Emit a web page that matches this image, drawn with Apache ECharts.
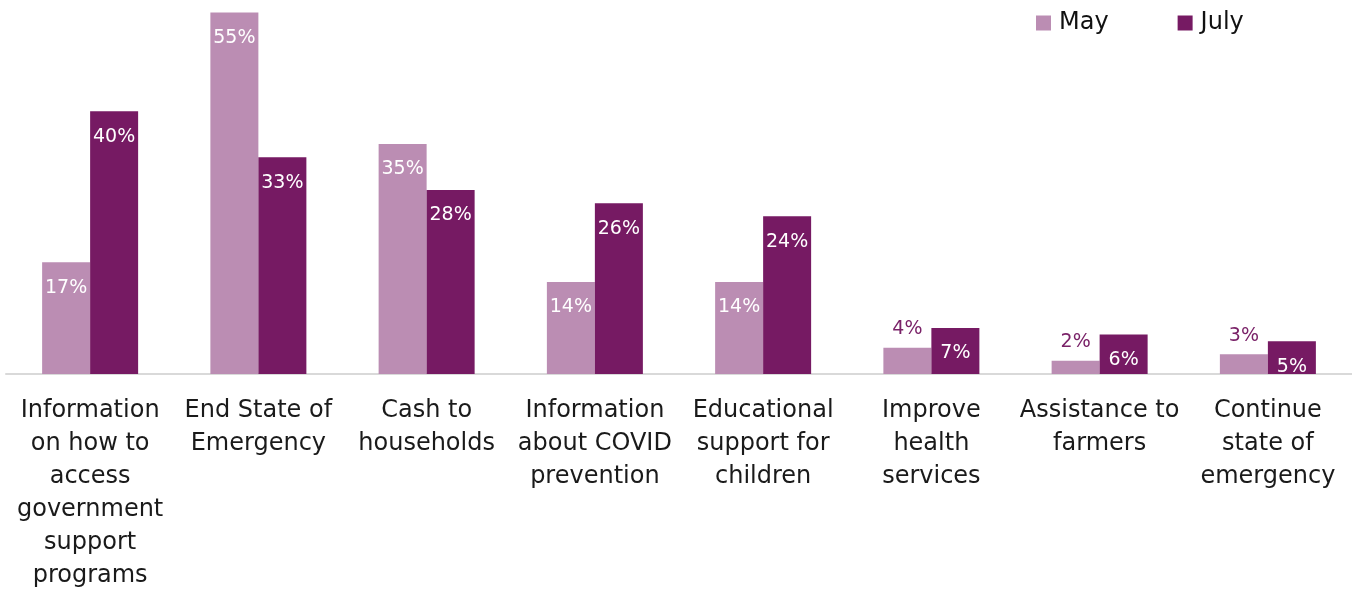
<!DOCTYPE html>
<html>
<head>
<meta charset="utf-8">
<script src="https://cdn.jsdelivr.net/npm/echarts@6/dist/echarts.min.js"></script>
<style>
  html, body { margin: 0; padding: 0; background: #ffffff; }
  #chart { width: 1352px; height: 592px; }
</style>
</head>
<body>
<div id="chart"></div>
<script>
// Survey categories (line breaks as displayed under each bar pair)
const categories = [
  'Information\non how to\naccess\ngovernment\nsupport\nprograms',
  'End State of\nEmergency',
  'Cash to\nhouseholds',
  'Information\nabout COVID\nprevention',
  'Educational\nsupport for\nchildren',
  'Improve\nhealth\nservices',
  'Assistance to\nfarmers',
  'Continue\nstate of\nemergency'
];
const mayValues = [17, 55, 35, 14, 14, 4, 2, 3];
const julyValues = [40, 33, 28, 26, 24, 7, 6, 5];

const MAY_COLOR = '#bb8db3';
const JULY_COLOR = '#761a63';
const FONT = '"DejaVu Sans", Verdana, sans-serif';

// Bars too short for an inside label get their label above, in purple
function labelled(values) {
  return values.map(v => {
    if (v < 5) {
      return {
        value: v,
        label: { position: 'top', distance: 9, color: '#7a2268' }
      };
    }
    return { value: v };
  });
}

const barLabel = {
  show: true,
  position: 'insideTop',
  distance: 16,
  formatter: '{c}%',
  fontSize: 19,
  color: '#ffffff',
  fontFamily: FONT
};

const chart = echarts.init(document.getElementById('chart'));
chart.setOption({
  animation: false,
  textStyle: { fontFamily: FONT },
  legend: {
    left: 1036,
    top: 11,
    padding: 0,
    itemWidth: 15,
    itemHeight: 15,
    itemGap: 69,
    icon: 'rect',
    textStyle: { fontSize: 24, color: '#111', fontFamily: FONT, padding: [0, 0, 0, 3] },
    data: ['May', 'July']
  },
  grid: {
    left: 6,
    right: 0,
    top: 6,
    height: 368,
    containLabel: false,
    outerBoundsMode: 'none'
  },
  xAxis: {
    type: 'category',
    data: categories,
    axisLine: { lineStyle: { color: '#d9d9d9', width: 2 } },
    axisTick: { show: false },
    axisLabel: {
      interval: 0,
      margin: 20,
      fontSize: 24,
      lineHeight: 33,
      color: '#1a1a1a',
      fontFamily: FONT
    }
  },
  yAxis: {
    type: 'value',
    min: 0,
    max: 56,
    show: false,
    splitLine: { show: false }
  },
  series: [
    {
      name: 'May',
      type: 'bar',
      data: labelled(mayValues),
      barWidth: 48,
      barGap: '0%',
      itemStyle: { color: MAY_COLOR },
      label: barLabel
    },
    {
      name: 'July',
      type: 'bar',
      data: labelled(julyValues),
      barWidth: 48,
      barGap: '0%',
      itemStyle: { color: JULY_COLOR },
      label: barLabel
    }
  ]
});
</script>
</body>
</html>
